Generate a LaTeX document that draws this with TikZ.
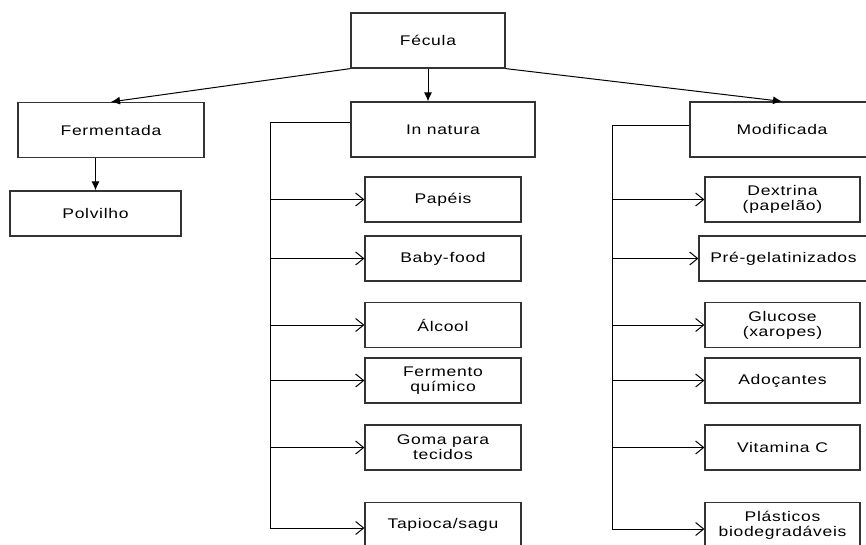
\documentclass[tikz,border=0pt]{standalone}
\usepackage{fontspec}
\setmainfont{Liberation Sans}[FakeStretch=1.25,LetterSpace=5]
\usetikzlibrary{arrows.meta}

\begin{document}
\begin{tikzpicture}[x=1pt, y=-1pt, line width=1pt,
  box/.style={draw=black!80, line width=1.2pt, align=center, inner sep=2pt, minimum height=45pt, font=\fontsize{14}{15}\selectfont},
  big/.style={box, minimum height=55pt},
  top/.style={-{Latex[length=9pt,width=8pt]}},
  leaf/.style={-{Straight Barb[length=8pt,width=13pt]}}]
\useasboundingbox (0,0) rectangle (866,545);
\clip (0,0) rectangle (866,545);
\node[big, minimum width=154pt] (fecula) at (428,40.5) {Fécula};
\node[big, minimum width=186pt] (ferm) at (111,130) {Fermentada};
\node[big, minimum width=184pt] (natura) at (443,129.5) {In natura};
\node[big, minimum width=184pt] (modif) at (782,129.5) {Modificada};
\node[box, minimum width=171pt] (polv) at (95.5,213.5) {Polvilho};

\node[box, minimum width=156pt] (papeis) at (443,199.5) {Papéis};
\node[box, minimum width=156pt] (baby) at (443,258.5) {Baby-food};
\node[box, minimum width=156pt] (alcool) at (443,325) {Álcool};
\node[box, minimum width=156pt] (fermento) at (443,380.5) {Fermento\\químico};
\node[box, minimum width=156pt] (goma) at (443,447.5) {Goma para\\tecidos};
\node[box, minimum width=156pt] (tapioca) at (443,525) {Tapioca/sagu};

\node[box, minimum width=155pt] (dextrina) at (782.5,199.5) {Dextrina\\(papelão)};
\node[box, minimum width=169pt] (pregel) at (783.5,258.5) {Pré-gelatinizados};
\node[box, minimum width=155pt] (glucose) at (782.5,325) {Glucose\\(xaropes)};
\node[box, minimum width=155pt] (adoc) at (782.5,380.5) {Adoçantes};
\node[box, minimum width=155pt] (vitc) at (782.5,447.5) {Vitamina C};
\node[box, minimum width=155pt] (plast) at (782.5,525) {Plásticos\\biodegradáveis};

\coordinate (ltop) at (270,123);
\coordinate (lbot) at (270,528);
\coordinate (rtop) at (612,126);
\coordinate (rbot) at (612,529);

\draw[top] (fecula.south west) -- (ferm.north);
\draw[top] (fecula.south) -- (fecula.south |- natura.north);
\draw[top] (fecula.south east) -- (modif.north);
\draw[top] (polv.north |- ferm.south) -- (polv.north);

\draw (natura.west |- ltop) -- (ltop) -- (lbot);
\draw[leaf] (ltop |- papeis.west) -- (papeis.west);
\draw[leaf] (ltop |- baby.west) -- (baby.west);
\draw[leaf] (ltop |- alcool.west) -- (alcool.west);
\draw[leaf] (ltop |- fermento.west) -- (fermento.west);
\draw[leaf] (ltop |- goma.west) -- (goma.west);
\draw[leaf] (lbot) -- (lbot -| tapioca.west);

\draw (modif.west |- rtop) -- (rtop) -- (rbot);
\draw[leaf] (rtop |- dextrina.west) -- (dextrina.west);
\draw[leaf] (rtop |- pregel.west) -- (pregel.west);
\draw[leaf] (rtop |- glucose.west) -- (glucose.west);
\draw[leaf] (rtop |- adoc.west) -- (adoc.west);
\draw[leaf] (rtop |- vitc.west) -- (vitc.west);
\draw[leaf] (rbot) -- (rbot -| plast.west);
\end{tikzpicture}
\end{document}
